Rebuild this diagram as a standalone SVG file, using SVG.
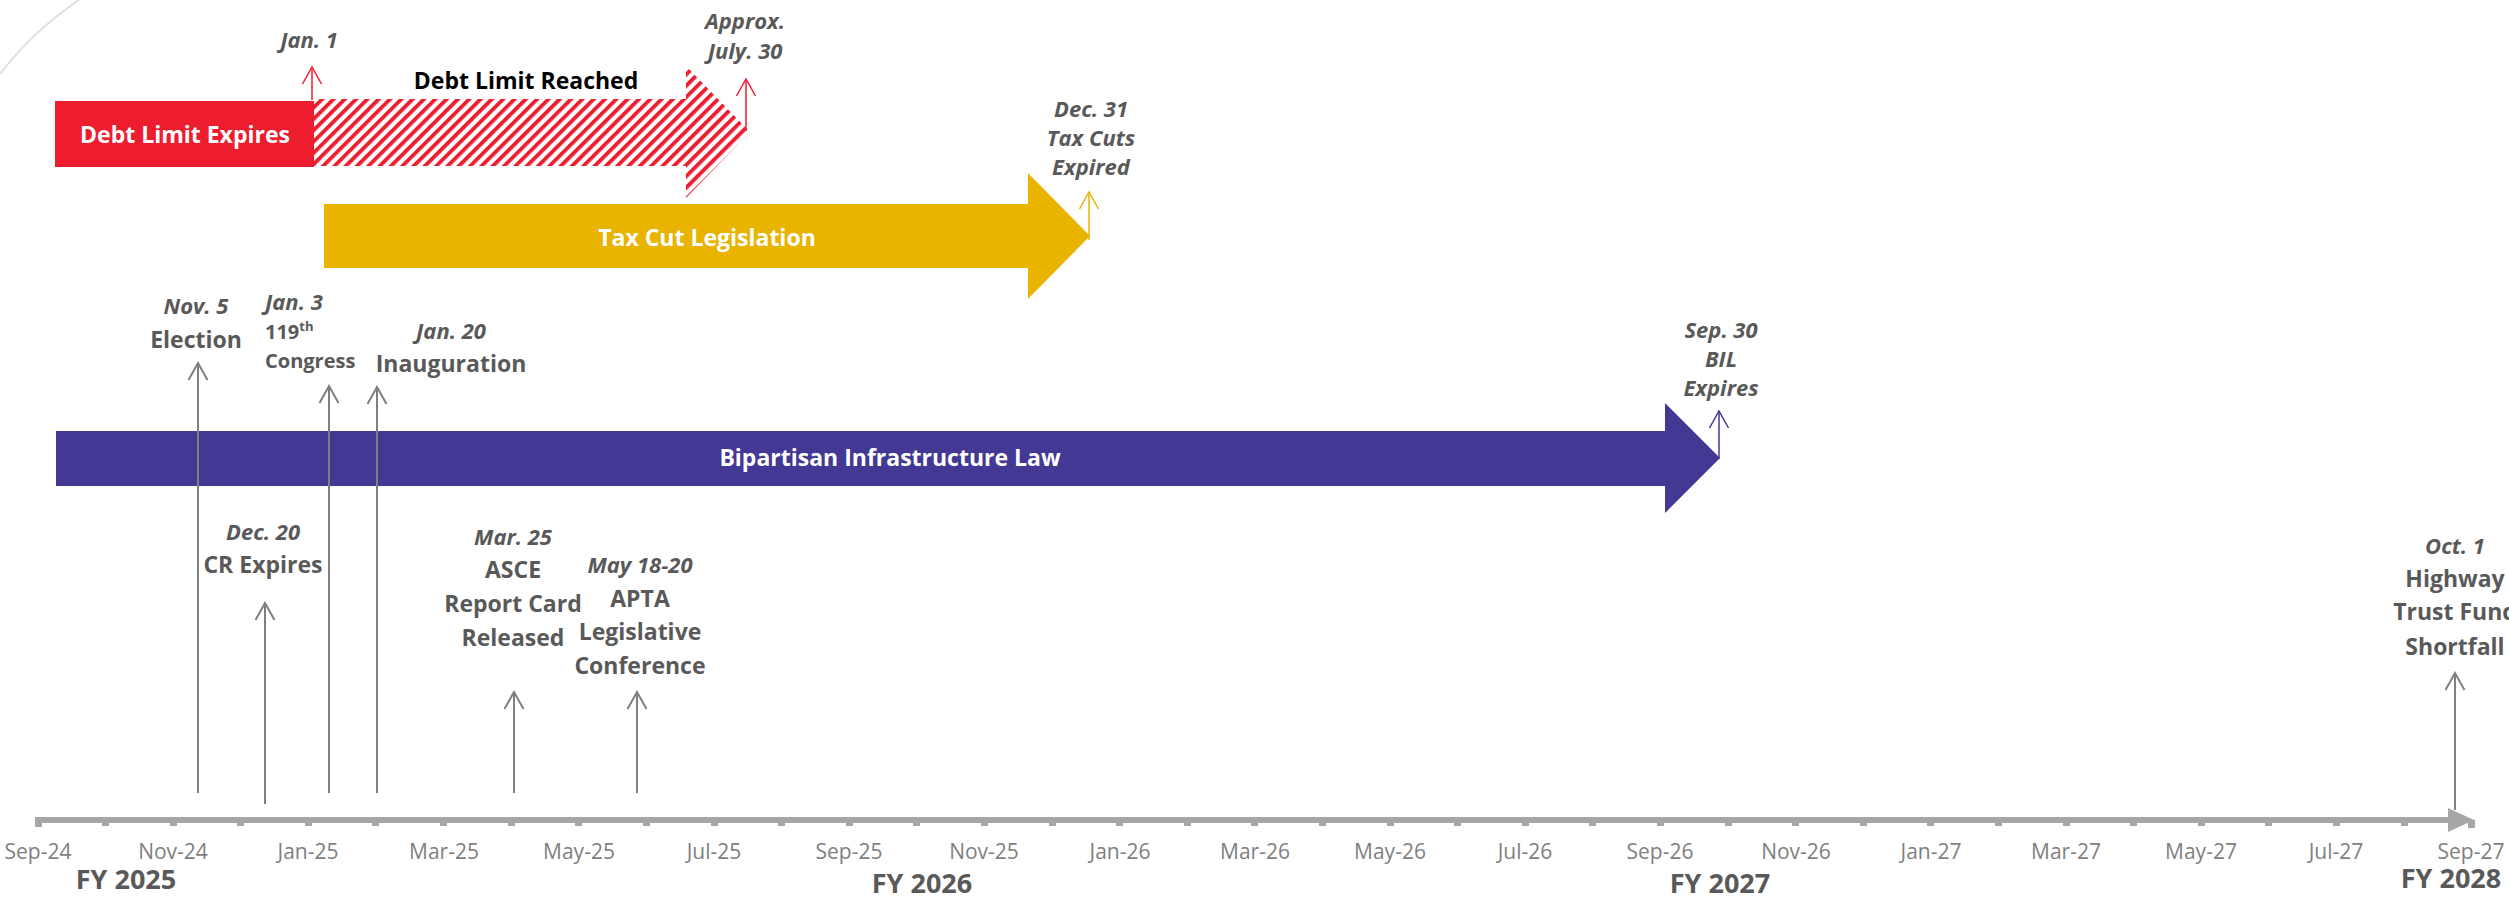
<svg xmlns="http://www.w3.org/2000/svg" width="2509" height="900" viewBox="0 0 2509 900">
<style>
text{font-family:"Open Sans","Liberation Sans",sans-serif}
.bar{font-size:23px;font-weight:700;fill:#fff;text-anchor:middle}
.ttl{font-size:23px;font-weight:700;fill:#595959;text-anchor:middle}
.dt{font-size:22px;font-weight:700;font-style:italic;fill:#595959;text-anchor:middle}
.mo{font-size:21px;fill:#7f7f7f;text-anchor:middle}
.fy{font-size:27px;font-weight:700;fill:#595959;text-anchor:middle}
.cg{font-size:20px;font-weight:700;fill:#595959}
.ev{stroke:#7f7f7f;stroke-width:2;fill:none}
.tick{fill:#a6a6a6}
</style>
<defs>
<pattern id="hatch" patternUnits="userSpaceOnUse" width="8" height="8" patternTransform="rotate(45)">
<rect width="8" height="8" fill="#fff"/>
<rect width="3.8" height="8" fill="#ED1C2E"/>
</pattern>
<marker id="mg" markerUnits="userSpaceOnUse" viewBox="-20 -12 22 24" markerWidth="22" markerHeight="24" refX="0" refY="0" orient="auto" overflow="visible"><path d="M-17,-9.5 L0,0 L-17,9.5" fill="none" stroke="#7f7f7f" stroke-width="2"/></marker>
<marker id="mr" markerUnits="userSpaceOnUse" viewBox="-20 -12 22 24" markerWidth="22" markerHeight="24" refX="0" refY="0" orient="auto" overflow="visible"><path d="M-17,-9.5 L0,0 L-17,9.5" fill="none" stroke="#ED1C2E" stroke-width="1.5"/></marker>
<marker id="my" markerUnits="userSpaceOnUse" viewBox="-20 -12 22 24" markerWidth="22" markerHeight="24" refX="0" refY="0" orient="auto" overflow="visible"><path d="M-17,-9.5 L0,0 L-17,9.5" fill="none" stroke="#E8B400" stroke-width="1.5"/></marker>
<marker id="mp" markerUnits="userSpaceOnUse" viewBox="-20 -12 22 24" markerWidth="22" markerHeight="24" refX="0" refY="0" orient="auto" overflow="visible"><path d="M-17,-9.5 L0,0 L-17,9.5" fill="none" stroke="#433894" stroke-width="1.5"/></marker>
</defs>

<path d="M0,74 Q32,32 79,0" fill="none" stroke="#e0e0e0" stroke-width="2"/>

<g id="debt-limit-expires">
<rect x="55" y="101" width="259" height="66" fill="#ED1C2E"/>
<text class="bar" x="185" y="143">Debt Limit Expires</text>
</g>

<g id="debt-limit-reached">
<polygon points="314,99 686,99 686,66 750,132 686,198 686,166 314,166" fill="url(#hatch)"/>
<text x="526" y="89" style="font-size:23px;font-weight:700;fill:#000;text-anchor:middle">Debt Limit Reached</text>
</g>

<g id="tax-cut-legislation">
<polygon points="324,204 1028,204 1028,173 1090,236 1028,299 1028,268 324,268" fill="#E8B400"/>
<text class="bar" x="707" y="246">Tax Cut Legislation</text>
</g>

<g id="bipartisan-infrastructure-law">
<polygon points="56,431 1665,431 1665,403 1720,458 1665,513 1665,486 56,486" fill="#433894"/>
<text class="bar" x="890" y="466">Bipartisan Infrastructure Law</text>
</g>

<g id="axis">
<rect x="35" y="817" width="2415" height="6" fill="#a6a6a6"/>
<polygon points="2448,808 2474,820 2448,832" fill="#a6a6a6"/>
<rect x="35" y="817" width="7" height="10" class="tick"/>
<rect x="102" y="822" width="7" height="4" class="tick"/><rect x="170" y="822" width="7" height="4" class="tick"/><rect x="237" y="822" width="7" height="4" class="tick"/><rect x="305" y="822" width="7" height="4" class="tick"/><rect x="372" y="822" width="7" height="4" class="tick"/><rect x="440" y="822" width="7" height="4" class="tick"/><rect x="508" y="822" width="7" height="4" class="tick"/><rect x="575" y="822" width="7" height="4" class="tick"/><rect x="643" y="822" width="7" height="4" class="tick"/><rect x="711" y="822" width="7" height="4" class="tick"/><rect x="778" y="822" width="7" height="4" class="tick"/><rect x="846" y="822" width="7" height="4" class="tick"/><rect x="913" y="822" width="7" height="4" class="tick"/><rect x="981" y="822" width="7" height="4" class="tick"/><rect x="1049" y="822" width="7" height="4" class="tick"/><rect x="1116" y="822" width="7" height="4" class="tick"/><rect x="1184" y="822" width="7" height="4" class="tick"/><rect x="1251" y="822" width="7" height="4" class="tick"/><rect x="1319" y="822" width="7" height="4" class="tick"/><rect x="1387" y="822" width="7" height="4" class="tick"/><rect x="1454" y="822" width="7" height="4" class="tick"/><rect x="1522" y="822" width="7" height="4" class="tick"/><rect x="1589" y="822" width="7" height="4" class="tick"/><rect x="1657" y="822" width="7" height="4" class="tick"/><rect x="1725" y="822" width="7" height="4" class="tick"/><rect x="1792" y="822" width="7" height="4" class="tick"/><rect x="1860" y="822" width="7" height="4" class="tick"/><rect x="1927" y="822" width="7" height="4" class="tick"/><rect x="1995" y="822" width="7" height="4" class="tick"/><rect x="2063" y="822" width="7" height="4" class="tick"/><rect x="2130" y="822" width="7" height="4" class="tick"/><rect x="2198" y="822" width="7" height="4" class="tick"/><rect x="2265" y="822" width="7" height="4" class="tick"/><rect x="2333" y="822" width="7" height="4" class="tick"/><rect x="2401" y="822" width="7" height="4" class="tick"/><rect x="2468" y="820" width="7" height="8" class="tick"/>
<text class="mo" x="38" y="859">Sep-24</text>
<text class="mo" x="173" y="859">Nov-24</text>
<text class="mo" x="308" y="859">Jan-25</text>
<text class="mo" x="444" y="859">Mar-25</text>
<text class="mo" x="579" y="859">May-25</text>
<text class="mo" x="714" y="859">Jul-25</text>
<text class="mo" x="849" y="859">Sep-25</text>
<text class="mo" x="984" y="859">Nov-25</text>
<text class="mo" x="1120" y="859">Jan-26</text>
<text class="mo" x="1255" y="859">Mar-26</text>
<text class="mo" x="1390" y="859">May-26</text>
<text class="mo" x="1525" y="859">Jul-26</text>
<text class="mo" x="1660" y="859">Sep-26</text>
<text class="mo" x="1796" y="859">Nov-26</text>
<text class="mo" x="1931" y="859">Jan-27</text>
<text class="mo" x="2066" y="859">Mar-27</text>
<text class="mo" x="2201" y="859">May-27</text>
<text class="mo" x="2336" y="859">Jul-27</text>
<text class="mo" x="2471" y="859">Sep-27</text>
<text class="fy" x="126" y="889">FY 2025</text>
<text class="fy" x="922" y="893">FY 2026</text>
<text class="fy" x="1720" y="893">FY 2027</text>
<text class="fy" x="2451" y="888">FY 2028</text>
</g>

<g id="connectors">
<line x1="312" y1="100" x2="312" y2="67" stroke="#ED1C2E" stroke-width="1.5" marker-end="url(#mr)"/>
<line x1="746" y1="131" x2="746" y2="79" stroke="#ED1C2E" stroke-width="1.5" marker-end="url(#mr)"/>
<line x1="1089" y1="240" x2="1089" y2="192" stroke="#E8B400" stroke-width="1.5" marker-end="url(#my)"/>
<line x1="1719" y1="459" x2="1719" y2="411" stroke="#433894" stroke-width="1.5" marker-end="url(#mp)"/>
<line class="ev" x1="198" y1="793" x2="198" y2="363" marker-end="url(#mg)"/>
<line class="ev" x1="329" y1="793" x2="329" y2="386" marker-end="url(#mg)"/>
<line class="ev" x1="377" y1="793" x2="377" y2="387" marker-end="url(#mg)"/>
<line class="ev" x1="265" y1="804" x2="265" y2="603" marker-end="url(#mg)"/>
<line class="ev" x1="514" y1="793" x2="514" y2="692" marker-end="url(#mg)"/>
<line class="ev" x1="637" y1="793" x2="637" y2="692" marker-end="url(#mg)"/>
<line class="ev" x1="2455" y1="810" x2="2455" y2="673" marker-end="url(#mg)"/>
</g>

<g id="jan-1"><text class="dt" x="309" y="48">Jan. 1</text></g>
<g id="approx-july-30"><text class="dt" x="745" y="29">Approx.</text><text class="dt" x="745" y="59">July. 30</text></g>
<g id="dec-31"><text class="dt" x="1091" y="117">Dec. 31</text><text class="dt" x="1091" y="146">Tax Cuts</text><text class="dt" x="1091" y="175">Expired</text></g>
<g id="sep-30"><text class="dt" x="1721" y="338">Sep. 30</text><text class="dt" x="1721" y="367">BIL</text><text class="dt" x="1721" y="396">Expires</text></g>
<g id="election"><text class="dt" x="196" y="314">Nov. 5</text><text class="ttl" x="196" y="348">Election</text></g>
<g id="congress"><text class="dt" x="265" y="310" style="text-anchor:start">Jan. 3</text><text class="cg" x="265" y="339"><tspan>119</tspan><tspan dy="-8" font-size="13">th</tspan></text><text class="cg" x="265" y="368">Congress</text></g>
<g id="inauguration"><text class="dt" x="451" y="339">Jan. 20</text><text class="ttl" x="451" y="372">Inauguration</text></g>
<g id="cr-expires"><text class="dt" x="263" y="540">Dec. 20</text><text class="ttl" x="263" y="573">CR Expires</text></g>
<g id="asce"><text class="dt" x="513" y="545">Mar. 25</text><text class="ttl" x="513" y="578">ASCE</text><text class="ttl" x="513" y="612">Report Card</text><text class="ttl" x="513" y="646">Released</text></g>
<g id="apta"><text class="dt" x="640" y="573">May 18-20</text><text class="ttl" x="640" y="607">APTA</text><text class="ttl" x="640" y="640">Legislative</text><text class="ttl" x="640" y="674">Conference</text></g>
<g id="highway"><text class="dt" x="2455" y="554">Oct. 1</text><text class="ttl" x="2455" y="587">Highway</text><text class="ttl" x="2455" y="620">Trust Fund</text><text class="ttl" x="2455" y="655">Shortfall</text></g>
</svg>
